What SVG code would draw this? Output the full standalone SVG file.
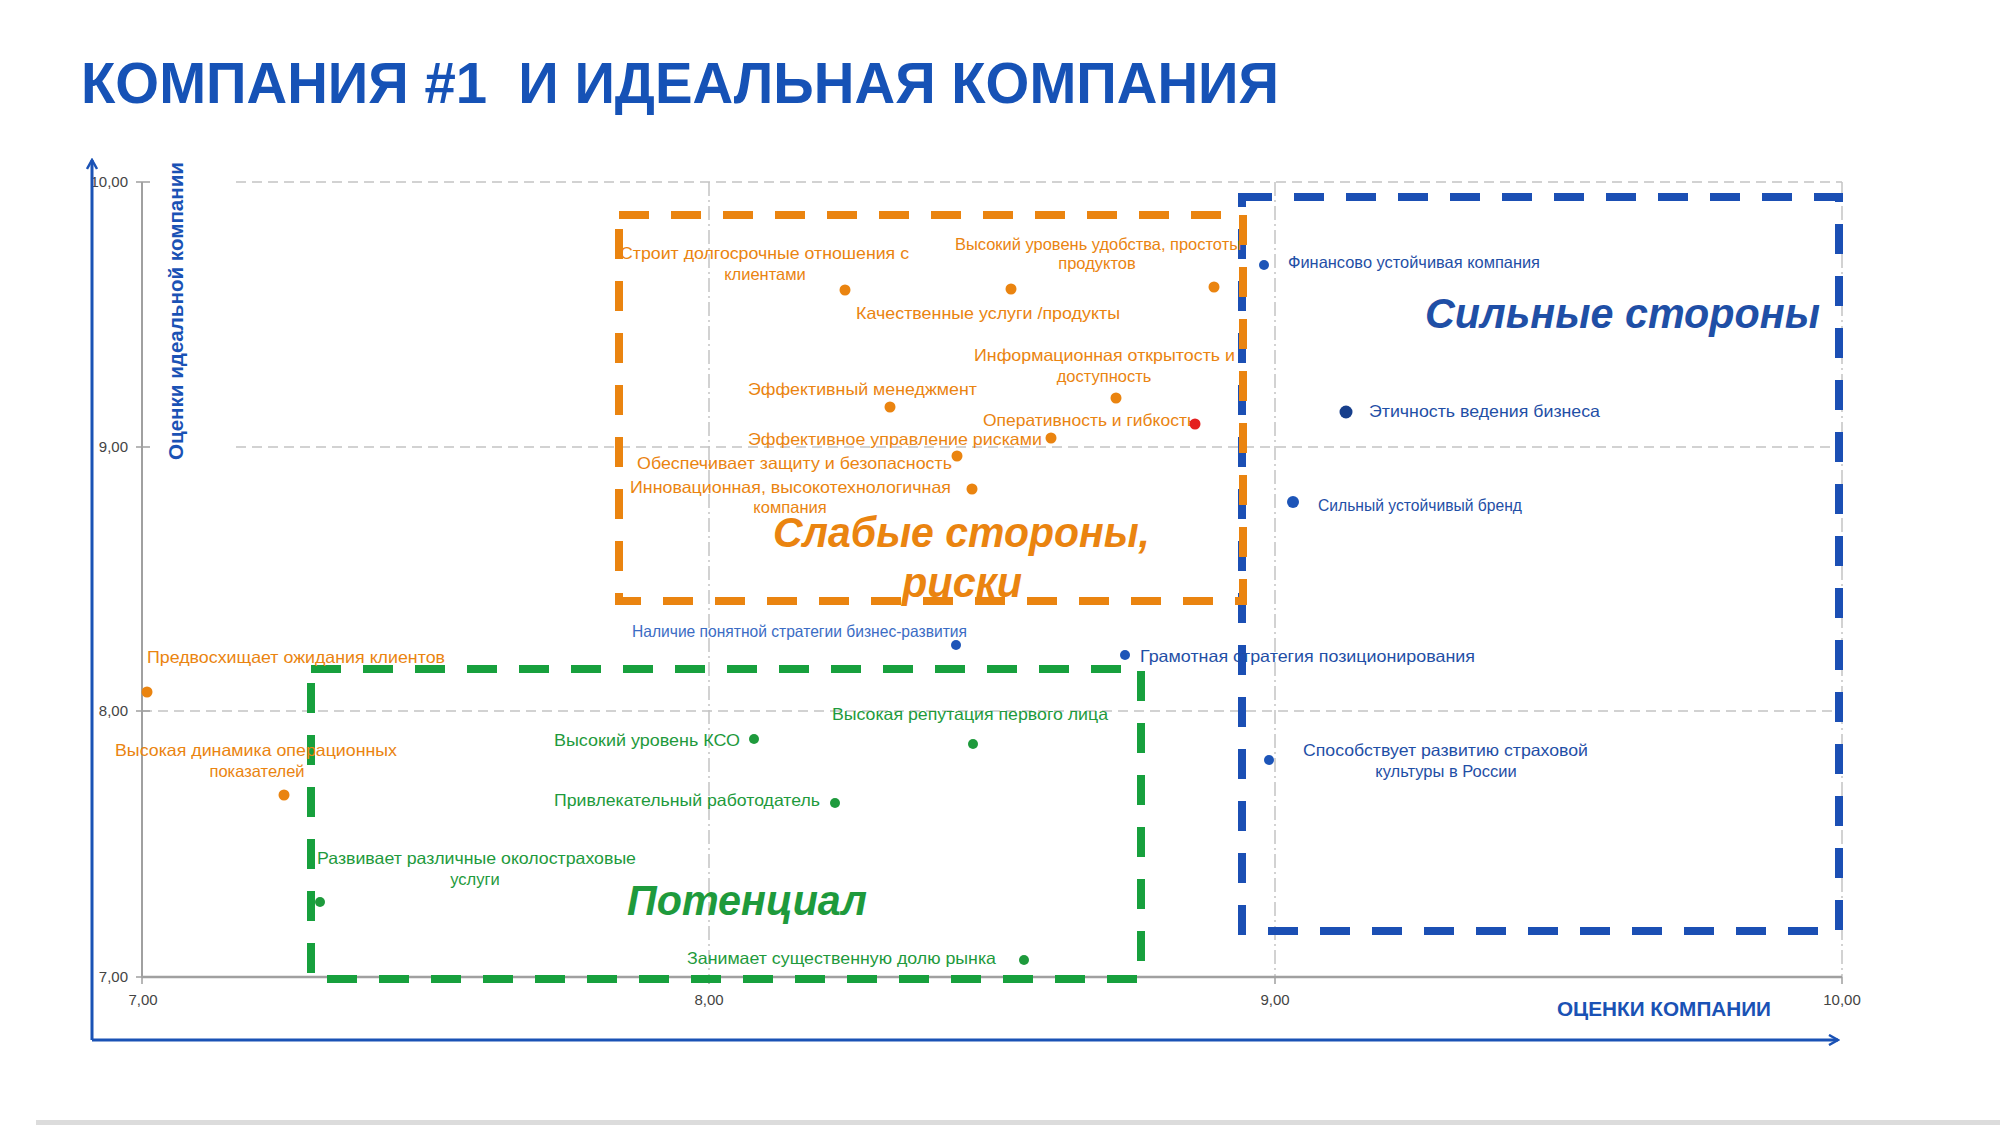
<svg xmlns="http://www.w3.org/2000/svg" width="2000" height="1125" viewBox="0 0 2000 1125">
<defs>
<style>
text{font-family:"Liberation Sans",Arial,sans-serif}
.t{font-size:16.5px}
.o{fill:#ea8410}
.g{fill:#1e9a3c}
.b{fill:#1f4fa6}
.lb{fill:#3b6cc4}
.big{font-size:42px;font-weight:bold;font-style:italic}
.tick{font-size:15px;fill:#444}
.grid{stroke:#c4c4c4;stroke-width:1.5;fill:none;stroke-dasharray:10 6}
.vgrid{stroke:#c4c4c4;stroke-width:1.5;fill:none;stroke-dasharray:14 4 2 4}
.box{fill:none;stroke-width:8;stroke-dasharray:30 22}
</style>
<marker id="arr" viewBox="0 0 12 12" refX="10" refY="6" markerWidth="12" markerHeight="12" markerUnits="userSpaceOnUse" orient="auto">
<path d="M1,1 L10,6 L1,11" fill="none" stroke="#1a52b5" stroke-width="2.5"/>
</marker>
</defs>
<rect width="2000" height="1125" fill="#ffffff"/>
<text id="title" x="81" y="103" font-size="58" font-weight="bold" fill="#1652b6" textLength="1198" lengthAdjust="spacingAndGlyphs" style="white-space:pre">КОМПАНИЯ #1  И ИДЕАЛЬНАЯ КОМПАНИЯ</text>

<g id="grid">
<line class="grid" x1="236" y1="182" x2="1842" y2="182"/>
<line class="grid" x1="236" y1="447" x2="1842" y2="447"/>
<line class="grid" x1="142" y1="711" x2="1842" y2="711"/>
<line class="vgrid" x1="709" y1="182" x2="709" y2="977"/>
<line class="vgrid" x1="1275" y1="182" x2="1275" y2="977"/>
<line class="vgrid" x1="1842" y1="182" x2="1842" y2="977"/>
<line x1="142" y1="182" x2="142" y2="977" stroke="#a0a0a0" stroke-width="2"/>
<line x1="142" y1="977" x2="1842" y2="977" stroke="#a0a0a0" stroke-width="2.5"/>
<path d="M136,182 H150 M136,447 H150 M136,711 H150 M136,977 H150 M142,977 V984 M709,977 V984 M1275,977 V984 M1842,977 V984" stroke="#a0a0a0" stroke-width="1.5"/>
<text class="tick" x="128" y="187" text-anchor="end">10,00</text>
<text class="tick" x="128" y="452" text-anchor="end">9,00</text>
<text class="tick" x="128" y="716" text-anchor="end">8,00</text>
<text class="tick" x="128" y="982" text-anchor="end">7,00</text>
<text class="tick" x="143" y="1005" text-anchor="middle">7,00</text>
<text class="tick" x="709" y="1005" text-anchor="middle">8,00</text>
<text class="tick" x="1275" y="1005" text-anchor="middle">9,00</text>
<text class="tick" x="1842" y="1005" text-anchor="middle">10,00</text>
</g>

<g id="axes">
<line x1="92" y1="1040" x2="92" y2="160" stroke="#1a52b5" stroke-width="3" marker-end="url(#arr)"/>
<line x1="92" y1="1040" x2="1838" y2="1040" stroke="#1a52b5" stroke-width="3" marker-end="url(#arr)"/>
<text x="0" y="0" transform="translate(183,311) rotate(-90)" text-anchor="middle" font-size="20" font-weight="bold" fill="#1a52b5" textLength="298" lengthAdjust="spacingAndGlyphs">Оценки идеальной компании</text>
<text x="1557" y="1016" font-size="21" font-weight="bold" fill="#1a52b5" textLength="214" lengthAdjust="spacingAndGlyphs">ОЦЕНКИ КОМПАНИИ</text>
</g>

<g id="zone-strong">
<rect class="box" x="1242" y="197" width="597" height="734" stroke="#1b4fb4"/>
<text class="big b" x="1425" y="328" fill="#1b4fb4" textLength="395" lengthAdjust="spacingAndGlyphs">Сильные стороны</text>
</g>
<g id="zone-weak">
<rect class="box" x="619" y="215" width="624" height="386" stroke="#ea8410"/>
<text class="big o" x="773" y="547" textLength="377" lengthAdjust="spacingAndGlyphs">Слабые стороны,</text>
<text class="big o" x="902" y="597" textLength="120" lengthAdjust="spacingAndGlyphs">риски</text>
</g>
<g id="zone-potential">
<rect class="box" x="311" y="669" width="830" height="310" stroke="#17a03d"/>
<text class="big g" x="627" y="915" fill="#17a03d" textLength="240" lengthAdjust="spacingAndGlyphs">Потенциал</text>
</g>

<g id="weak-points">
<g id="p1"><circle cx="845" cy="290" r="5.5" fill="#ea8410"/>
<text class="t o" x="620" y="259" textLength="289" lengthAdjust="spacingAndGlyphs">Строит долгосрочные отношения с</text>
<text class="t o" x="765" y="280" text-anchor="middle">клиентами</text></g>
<g id="p2"><circle cx="1214" cy="287" r="5.5" fill="#ea8410"/>
<text class="t o" x="955" y="250" textLength="286" lengthAdjust="spacingAndGlyphs">Высокий уровень удобства, простоты</text>
<text class="t o" x="1097" y="269" text-anchor="middle">продуктов</text></g>
<g id="p3"><circle cx="1011" cy="289" r="5.5" fill="#ea8410"/>
<text class="t o" x="856" y="319" textLength="264" lengthAdjust="spacingAndGlyphs">Качественные услуги /продукты</text></g>
<g id="p4"><circle cx="1116" cy="398" r="5.5" fill="#ea8410"/>
<text class="t o" x="974" y="361" textLength="261" lengthAdjust="spacingAndGlyphs">Информационная открытость и</text>
<text class="t o" x="1104" y="382" text-anchor="middle">доступность</text></g>
<g id="p5"><circle cx="890" cy="407" r="5.5" fill="#ea8410"/>
<text class="t o" x="748" y="395" textLength="229" lengthAdjust="spacingAndGlyphs">Эффективный менеджмент</text></g>
<g id="p6">
<text class="t o" x="983" y="426" textLength="213" lengthAdjust="spacingAndGlyphs">Оперативность и гибкость</text>
<circle cx="1195" cy="424" r="5.5" fill="#e42020"/></g>
<g id="p7"><circle cx="1051" cy="438" r="5.5" fill="#ea8410"/>
<text class="t o" x="748" y="445" textLength="294" lengthAdjust="spacingAndGlyphs">Эффективное управление рисками</text></g>
<g id="p8"><circle cx="957" cy="456" r="5.5" fill="#ea8410"/>
<text class="t o" x="637" y="469" textLength="315" lengthAdjust="spacingAndGlyphs">Обеспечивает защиту и безопасность</text></g>
<g id="p9"><circle cx="972" cy="489" r="5.5" fill="#ea8410"/>
<text class="t o" x="630" y="493" textLength="321" lengthAdjust="spacingAndGlyphs">Инновационная, высокотехнологичная</text>
<text class="t o" x="790" y="513" text-anchor="middle">компания</text></g>
<g id="p10"><circle cx="147" cy="692" r="5.5" fill="#ea8410"/>
<text class="t o" x="147" y="663" textLength="298" lengthAdjust="spacingAndGlyphs">Предвосхищает ожидания клиентов</text></g>
<g id="p11"><circle cx="284" cy="795" r="5.5" fill="#ea8410"/>
<text class="t o" x="115" y="756" textLength="282" lengthAdjust="spacingAndGlyphs">Высокая динамика операционных</text>
<text class="t o" x="257" y="777" text-anchor="middle">показателей</text></g>
</g>

<g id="potential-points">
<g id="p12"><circle cx="754" cy="739" r="5" fill="#1e9a3c"/>
<text class="t g" x="554" y="746" textLength="186" lengthAdjust="spacingAndGlyphs">Высокий уровень КСО</text></g>
<g id="p13"><circle cx="973" cy="744" r="5" fill="#1e9a3c"/>
<text class="t g" x="832" y="720" textLength="276" lengthAdjust="spacingAndGlyphs">Высокая репутация первого лица</text></g>
<g id="p14"><circle cx="835" cy="803" r="5" fill="#1e9a3c"/>
<text class="t g" x="554" y="806" textLength="266" lengthAdjust="spacingAndGlyphs">Привлекательный работодатель</text></g>
<g id="p15"><circle cx="320" cy="902" r="5" fill="#1e9a3c"/>
<text class="t g" x="317" y="864" textLength="319" lengthAdjust="spacingAndGlyphs">Развивает различные околостраховые</text>
<text class="t g" x="475" y="885" text-anchor="middle">услуги</text></g>
<g id="p16"><circle cx="1024" cy="960" r="5" fill="#1e9a3c"/>
<text class="t g" x="687" y="964" textLength="309" lengthAdjust="spacingAndGlyphs">Занимает существенную долю рынка</text></g>
</g>

<g id="strong-points">
<g id="p17"><circle cx="1264" cy="265" r="5" fill="#1d55b8"/>
<text class="t b" x="1288" y="268" textLength="252" lengthAdjust="spacingAndGlyphs">Финансово устойчивая компания</text></g>
<g id="p18"><circle cx="1346" cy="412" r="6.5" fill="#173f8c"/>
<text class="t b" x="1369" y="417" textLength="231" lengthAdjust="spacingAndGlyphs">Этичность ведения бизнеса</text></g>
<g id="p19"><circle cx="1293" cy="502" r="6" fill="#1d55b8"/>
<text class="t b" x="1318" y="511" textLength="204" lengthAdjust="spacingAndGlyphs">Сильный устойчивый бренд</text></g>
<g id="p20"><circle cx="956" cy="645" r="5" fill="#1d55b8"/>
<text class="t lb" x="632" y="637" textLength="335" lengthAdjust="spacingAndGlyphs">Наличие понятной стратегии бизнес-развития</text></g>
<g id="p21"><circle cx="1125" cy="655" r="5" fill="#1d55b8"/>
<text class="t b" x="1140" y="662" textLength="335" lengthAdjust="spacingAndGlyphs">Грамотная стратегия позиционирования</text></g>
<g id="p22"><circle cx="1269" cy="760" r="5" fill="#1d55b8"/>
<text class="t b" x="1303" y="756" textLength="285" lengthAdjust="spacingAndGlyphs">Способствует развитию страховой</text>
<text class="t b" x="1446" y="777" text-anchor="middle">культуры в России</text></g>
</g>

<rect x="36" y="1120" width="1964" height="5" fill="#dcdcdc"/>
</svg>
